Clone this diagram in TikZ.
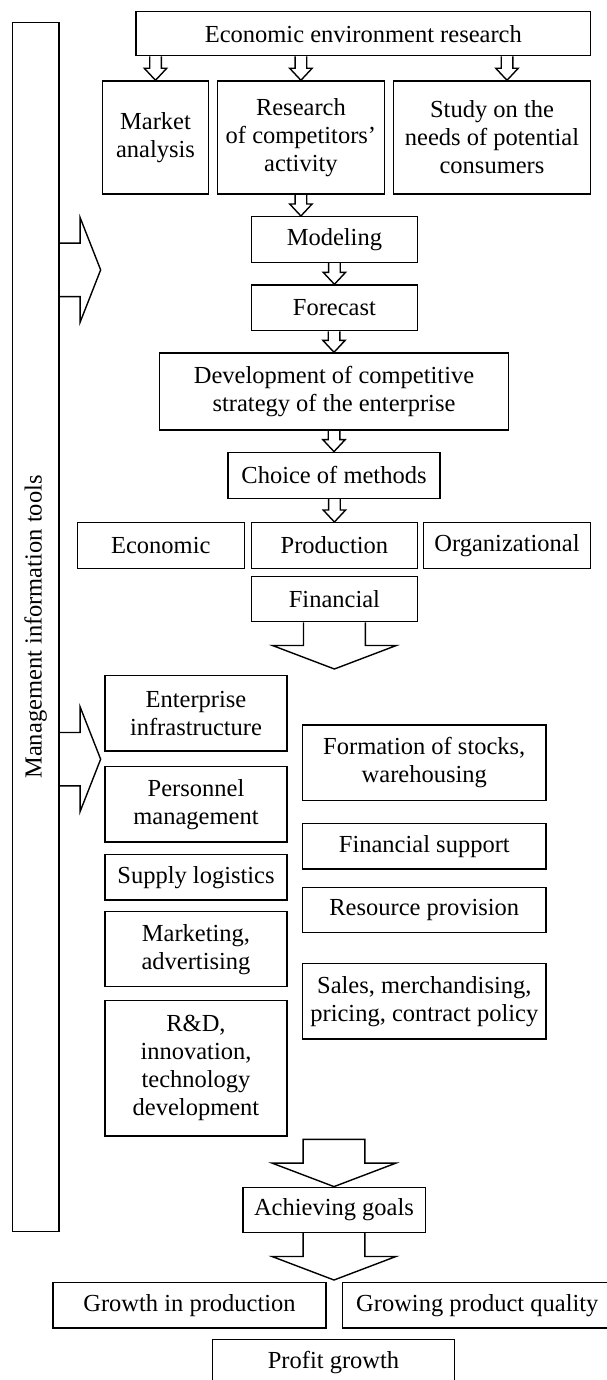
\documentclass[tikz,border=0pt]{standalone}
\usepackage{fontspec}
\setmainfont{Liberation Serif}
\usepackage{tikz}
\usetikzlibrary{calc}

\newcommand{\boxfont}{\fontsize{24.5}{28}\selectfont}

% hollow down arrow: #1 start (its y), #2 tip, #3 shaft half width, #4 head half width, #5 head length
\newcommand{\hollowarrow}[5]{%
  \draw[arr] let \p1=(#1), \p2=(#2) in
    (\x2-#3pt,\y1) -- (\x2-#3pt,\y2+#5pt) -- (\x2-#4pt,\y2+#5pt) -- (\x2,\y2)
    -- (\x2+#4pt,\y2+#5pt) -- (\x2+#3pt,\y2+#5pt) -- (\x2+#3pt,\y1);}
\newcommand{\smallarrow}[2]{\hollowarrow{#1}{#2}{5.8}{11.2}{12}}
\newcommand{\bigarrow}[2]{\hollowarrow{#1}{#2}{30.9}{61.9}{23.5}}

\begin{document}
\begin{tikzpicture}[x=1pt,y=-1pt,
  box/.style={draw, line width=1.4pt, align=center, inner sep=0pt, font=\boxfont},
  arr/.style={draw, line width=1.4pt, line join=miter}]
\useasboundingbox (0,0) rectangle (606,1380);

% Side bar
\node[box, minimum width=46.7pt, minimum height=1209.4pt] (bar) at (35.6,627) {};
\node[font=\boxfont, rotate=90] (tools) at (bar.center) {Management information tools};

% Research of the environment
\node[box, minimum width=454.6pt, minimum height=44pt] (econ) at (363.3,33.7) {Economic environment research};
\node[box, minimum width=106.3pt, minimum height=113pt] (market) at (155.5,137.5) {Market\\analysis};
\node[box, minimum width=167.4pt, minimum height=113pt] (research) at (300.9,137.5) {Research\\of competitors'\\activity};
\node[box, minimum width=197.1pt, minimum height=113pt] (study) at (492,137.5) {Study on the\\needs of potential\\consumers};

% Strategy chain
\node[box, minimum width=166.2pt, minimum height=45.6pt] (modeling) at (334.4,239.5) {Modeling};
\node[box, minimum width=166.2pt, minimum height=45.6pt] (forecast) at (334.4,307.8) {Forecast};
\node[box, minimum width=348.7pt, minimum height=77pt] (strategy) at (334,391.5) {Development of competitive\\strategy of the enterprise};
\node[box, minimum width=212pt, minimum height=46pt] (choice) at (334,475.3) {Choice of methods};

% Methods
\node[box, minimum width=167pt, minimum height=45.6pt] (economic) at (160.8,545.5) {Economic};
\node[box, minimum width=166.2pt, minimum height=45.6pt] (production) at (334.4,545.5) {Production};
\node[box, minimum width=167.3pt, minimum height=45.6pt] (organiz) at (507,545.5) {Organizational};
\node[box, minimum width=166.2pt, minimum height=45pt] (financial) at (334.4,599.2) {Financial};

% Activities, left column
\node[box, minimum width=181.7pt, minimum height=75.3pt] (infra) at (196,713.3) {Enterprise\\infrastructure};
\node[box, minimum width=181.7pt, minimum height=75.3pt] (personnel) at (196,804.3) {Personnel\\management};
\node[box, minimum width=181.7pt, minimum height=45.7pt] (supply) at (196,877.2) {Supply logistics};
\node[box, minimum width=181.7pt, minimum height=75pt] (marketing) at (196,949.2) {Marketing,\\advertising};
\node[box, minimum width=181.7pt, minimum height=135.3pt] (rnd) at (196,1068.3) {R\&D,\\innovation,\\technology\\development};

% Activities, right column
\node[box, minimum width=243.1pt, minimum height=75.7pt] (stocks) at (424.3,762.8) {Formation of stocks,\\warehousing};
\node[box, minimum width=243.1pt, minimum height=45.7pt] (finsupport) at (424.3,846.2) {Financial support};
\node[box, minimum width=243.1pt, minimum height=45pt] (resource) at (424.3,910.2) {Resource provision};
\node[box, minimum width=243.1pt, minimum height=75.7pt] (sales) at (424.3,1001.2) {Sales, merchandising,\\pricing, contract policy};

% Results
\node[box, minimum width=182.4pt, minimum height=45pt] (goals) at (334,1209.8) {Achieving goals};
\node[box, minimum width=273pt, minimum height=45.5pt] (growth) at (189.5,1305.2) {Growth in production};
\node[box, minimum width=269.3pt, minimum height=45.5pt] (quality) at (477.3,1305.2) {Growing product quality};
\node[box, minimum width=241.6pt, minimum height=46pt] (profit) at (333.5,1362.3) {Profit growth};

\coordinate (drop1) at (334.4,669);
\coordinate (top2) at (334,1139.3);
\coordinate (drop2) at (334,1280);

% Small arrows
\smallarrow{econ.south -| market.north}{market.north}
\smallarrow{econ.south}{research.north}
\smallarrow{econ.south}{[xshift=15pt]study.north}
\smallarrow{research.south}{research.south |- modeling.north}
\smallarrow{modeling.south}{forecast.north}
\smallarrow{forecast.south}{strategy.north}
\smallarrow{strategy.south}{choice.north}
\smallarrow{choice.south}{production.north}

% Big arrows
\bigarrow{financial.south}{drop1}
\draw[arr] let \p1=(top2), \p2=(goals.north) in
  (\x2-30.9pt,\y1) -- (\x2-30.9pt,\y2+23.5pt) -- (\x2-61.9pt,\y2+23.5pt) -- (\x2,\y2)
  -- (\x2+61.9pt,\y2+23.5pt) -- (\x2+30.9pt,\y2+23.5pt) -- (\x2+30.9pt,\y1) -- cycle;
\bigarrow{goals.south}{drop2}

% Arrows from the side bar
\foreach \yy in {269.9,759.2}
  \draw[arr] let \p1=(bar.east) in
    (\x1,-\yy pt+26.7pt) -- (\x1+20.4pt,-\yy pt+26.7pt) -- (\x1+20.4pt,-\yy pt+52.5pt)
    -- (\x1+41pt,-\yy pt) -- (\x1+20.4pt,-\yy pt-52.5pt) -- (\x1+20.4pt,-\yy pt-26.7pt)
    -- (\x1,-\yy pt-26.7pt);
\end{tikzpicture}
\end{document}
